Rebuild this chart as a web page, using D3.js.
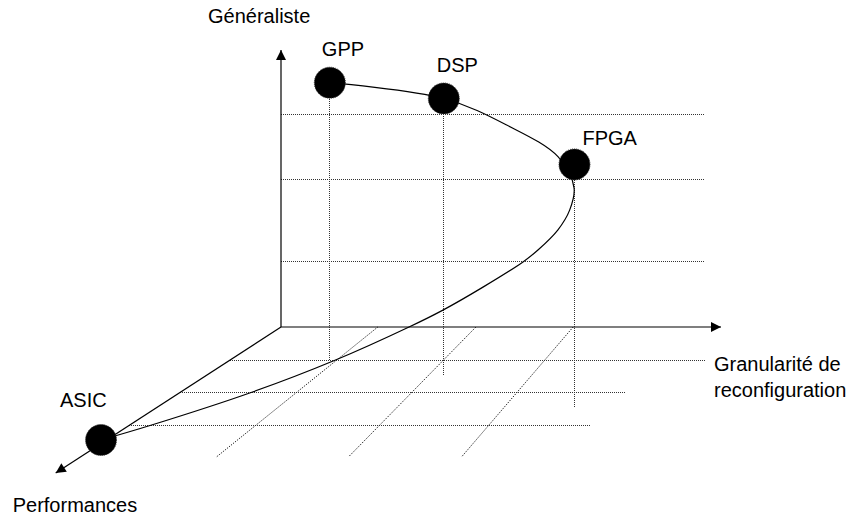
<!DOCTYPE html>
<html>
<head>
<meta charset="utf-8">
<script src="https://cdn.jsdelivr.net/npm/d3@7"></script>
<style>
  body { margin: 0; background: #fff; }
  text { font-family: "Liberation Sans", Arial, sans-serif; font-size: 20px; fill: #000; }
</style>
</head>
<body>
<script>
// Processeurs (granularité, généralité, performances)
const noms = ["GPP", "DSP", "FPGA", "ASIC"];
const granularite = [11.1, 37.0, 66.7, -1];
const generaliste = [88.2, 82.5, 58.7, 0];
const performances = [0, 0, 0, 77.4];
// fin des lignes verticales pointillées (généralité sous l'axe)
const chute = [-11.9, -17.7, -29.2];

// grille du "mur"
const niveauxMur = [76.8, 53.1, 23.6];
const finMur = 96.4;

// grille du "sol"
const rangsSol = [22.8, 44.7, 67.5];
const finRangs = [100.4, 87.7, 85.1];
const colonnesDebut = [22, 44.3, 66.4];
const colonnesFin = [23.7, 46.7, 66.4];
const profondeurColonnes = 89;

// courbe
const courbeGran = [11.1, 37.0, 51.3, 63.0, 66.6, 65.6, 62.9, 58.4, 55.0, 45.9, 36.8, 29.1, 22.2, 14.1, 3.9, -1];
const courbeGen  = [88.2, 82.5, 72.9, 61.4, 50.2, 42.2, 35.0, 27.8, 23.5, 14.4, 6.1, 0, 0, 0, 0, 0];
const courbePerf = [0, 0, 0, 0, 0, 0, 0, 0, 0, 0, 0, 0, 22.8, 44.7, 67.5, 77.4];

const width = 850, height = 518;

const svg = d3.select("body").append("svg")
    .attr("width", width)
    .attr("height", height);

const x = d3.scaleLinear().domain([0, 100]).range([281, 721]);
const y = d3.scaleLinear().domain([0, 100]).range([327, 50]);
const z = d3.scaleLinear().domain([0, 100]).range([0, 146]);
const fuite = { x: 940, y: -100 }; // point de fuite du sol

// projection pseudo-3D
function proj(g, h, p) {
    const X = x(g), Y = y(h), d = z(p);
    const k = d / (y(0) - fuite.y);
    return [X + (X - fuite.x) * k, Y + d];
}

svg.append("defs").append("marker")
    .attr("id", "fleche")
    .attr("viewBox", "0 -5 10 10")
    .attr("refX", 10)
    .attr("refY", 0)
    .attr("markerUnits", "userSpaceOnUse")
    .attr("markerWidth", 15)
    .attr("markerHeight", 10)
    .attr("orient", "auto")
    .append("path")
    .attr("d", "M0,-5L10,0L0,5Z")
    .attr("fill", "#000");

const dotted = sel => sel
    .attr("stroke", "#333")
    .attr("stroke-width", 1)
    .attr("stroke-dasharray", "1,1")
    .attr("shape-rendering", "crispEdges")
    .attr("fill", "none");

const seg = (a, b) => sel => sel
    .attr("x1", a[0]).attr("y1", a[1])
    .attr("x2", b[0]).attr("y2", b[1]);

// grille du mur
const grille = svg.append("g");
niveauxMur.forEach(h => {
    grille.append("line").call(seg(proj(0, h, 0), proj(finMur, h, 0))).call(dotted);
});

// grille du sol
rangsSol.forEach((p, i) => {
    grille.append("line").call(seg(proj(0, 0, p), proj(finRangs[i], 0, p))).call(dotted);
});
colonnesDebut.forEach((g, i) => {
    grille.append("line")
        .call(seg(proj(g, 0, 0), proj(colonnesFin[i], 0, profondeurColonnes)))
        .call(dotted)
        .attr("stroke", "#222")
        .attr("stroke-dasharray", "1.3,1.3")
        .attr("shape-rendering", "auto");
});

// lignes verticales sous les processeurs
chute.forEach((c, i) => {
    grille.append("line")
        .call(seg(proj(granularite[i], generaliste[i], 0), proj(granularite[i], c, 0)))
        .call(dotted);
});

// axes
const axes = svg.append("g")
    .attr("stroke", "#000")
    .attr("stroke-width", 1.2);
[[0, 100, 0], [100, 0, 0], [0, 0, 100]].forEach(e => {
    axes.append("line")
        .call(seg(proj(0, 0, 0), proj(e[0], e[1], e[2])))
        .attr("marker-end", "url(#fleche)");
});

// courbe
const pts = courbeGran.map((g, i) => proj(g, courbeGen[i], courbePerf[i]));
svg.append("path")
    .attr("d", d3.line().curve(d3.curveCatmullRom.alpha(0.5))(pts))
    .attr("fill", "none")
    .attr("stroke", "#000")
    .attr("stroke-width", 1.2);

// processeurs
const procs = noms.map((n, i) => ({ nom: n, pos: proj(granularite[i], generaliste[i], performances[i]) }));
svg.append("g").selectAll("circle")
    .data(procs)
    .join("circle")
    .attr("cx", d => d.pos[0])
    .attr("cy", d => d.pos[1])
    .attr("r", 15.5)
    .attr("fill", "#000")
    .attr("stroke", "#333")
    .attr("stroke-width", 1)
    .attr("stroke-dasharray", "1,1");

const decalage = { GPP: [-8, -27], DSP: [-7, -26], FPGA: [8, -19], ASIC: [-41, -33] };
svg.append("g").selectAll("text")
    .data(procs)
    .join("text")
    .attr("x", d => d.pos[0] + decalage[d.nom][0])
    .attr("y", d => d.pos[1] + decalage[d.nom][1])
    .text(d => d.nom);

// titres des axes
const hautGen = proj(0, 100, 0);
svg.append("text")
    .attr("x", hautGen[0] - 73)
    .attr("y", hautGen[1] - 27)
    .text("Généraliste");

const boutGran = proj(100, 0, 0);
svg.append("text")
    .attr("x", boutGran[0] - 7)
    .attr("y", boutGran[1] + 44)
    .text("Granularité de");
svg.append("text")
    .attr("x", boutGran[0] - 7)
    .attr("y", boutGran[1] + 70)
    .text("reconfiguration");

const boutPerf = proj(0, 0, 100);
svg.append("text")
    .attr("x", boutPerf[0] - 43)
    .attr("y", boutPerf[1] + 39)
    .text("Performances");
</script>
</body>
</html>
